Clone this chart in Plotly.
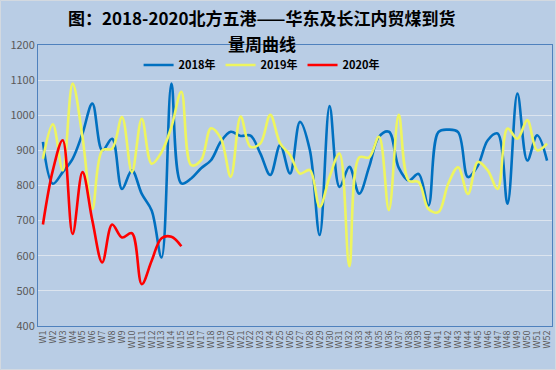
import plotly.graph_objects as go

weeks = [f"W{i}" for i in range(1, 53)]

y2018 = [924, 805, 838, 876, 948, 1033, 900, 933, 790, 843, 776, 729, 595, 1090,
         806, 820, 849, 872, 925, 953, 941, 942, 891, 830, 915, 834, 981, 901,
         659, 1026, 796, 853, 777, 853, 939, 953, 850, 814, 833, 743, 952, 959,
         952, 824, 857, 929, 948, 748, 1062, 871, 943, 871]

y2019 = [876, 974, 843, 1090, 938, 733, 900, 905, 995, 838, 990, 862, 895, 967,
         1067, 858, 872, 963, 934, 825, 996, 910, 920, 1001, 920, 887, 834, 844,
         739, 825, 891, 570, 880, 880, 939, 730, 1001, 814, 810, 733, 724, 805,
         852, 776, 867, 843, 790, 962, 933, 986, 900, 919]

y2020 = [689, 843, 929, 662, 838, 700, 581, 689, 652, 664, 519, 586, 650, 654, 627]

series = [("2018年", y2018, "#0070C0"),
          ("2019年", y2019, "#EEF55F"),
          ("2020年", y2020, "#FF0000")]

y_ticks = list(range(400, 1201, 100))

title_line1 = "图：2018-2020北方五港——华东及长江内贸煤到货"
title_line2 = "量周曲线"

W, H = 556, 370
ML, MR, MT, MB = 38, 4, 45, 44
PW, PH = W - ML - MR, H - MT - MB


def px_to_paper_y(py):
    return (H - MB - py) / PH


def px_to_paper_x(px):
    return (px - ML) / PW


fig = go.Figure()
for name, vals, color in series:
    fig.add_trace(go.Scatter(
        x=weeks[:len(vals)], y=vals, name=name, mode="lines",
        line=dict(color=color, width=2.6, shape="spline", smoothing=1.0),
    ))

title_font = dict(size=17, color="#000000", weight="bold",
                  family="Noto Sans CJK SC, sans-serif")
fig.add_annotation(text=title_line1, xref="paper", yref="paper",
                   x=px_to_paper_x(261), y=px_to_paper_y(18),
                   xanchor="center", yanchor="middle",
                   showarrow=False, font=title_font)
fig.add_annotation(text=title_line2, xref="paper", yref="paper",
                   x=px_to_paper_x(262), y=px_to_paper_y(43),
                   xanchor="center", yanchor="middle",
                   showarrow=False, font=title_font)

# thin outer chart border
fig.add_shape(type="rect", xref="paper", yref="paper",
              x0=px_to_paper_x(0.5), x1=px_to_paper_x(W - 0.5),
              y0=px_to_paper_y(H - 0.5), y1=px_to_paper_y(0.5),
              line=dict(color="#D3D9E0", width=1), fillcolor="rgba(0,0,0,0)",
              layer="below")

fig.update_layout(
    width=W, height=H,
    margin=dict(l=ML, r=MR, t=MT, b=MB),
    paper_bgcolor="#B9CDE5",
    plot_bgcolor="#B9CDE5",
    font=dict(family="Noto Sans CJK SC, sans-serif", color="#595959"),
    legend=dict(
        orientation="h", x=0.435, xanchor="center", y=px_to_paper_y(65),
        yanchor="middle",
        font=dict(size=11, color="#000000", weight="bold"),
        bgcolor="rgba(0,0,0,0)", itemwidth=30, tracegroupgap=0,
    ),
    showlegend=True,
)

fig.update_xaxes(
    type="category", categoryorder="array", categoryarray=weeks,
    tickmode="array", tickvals=weeks, ticktext=weeks,
    tickangle=-90, tickfont=dict(size=9, color="#595959"),
    showgrid=False, showline=True, linecolor="#4F81BD", linewidth=1,
    mirror=True, ticks="", range=[-0.5, 51.5],
)
fig.update_yaxes(
    range=[400, 1200], tickvals=y_ticks,
    tickfont=dict(size=11, color="#595959"),
    showgrid=True, gridcolor="#DCE4EE", gridwidth=1,
    showline=True, linecolor="#4F81BD", linewidth=1, mirror=True,
    zeroline=False, ticks="",
)

fig.write_html("out.html", config={"displayModeBar": False},
               post_script="document.body.style.margin='0';document.body.style.overflow='hidden';")
